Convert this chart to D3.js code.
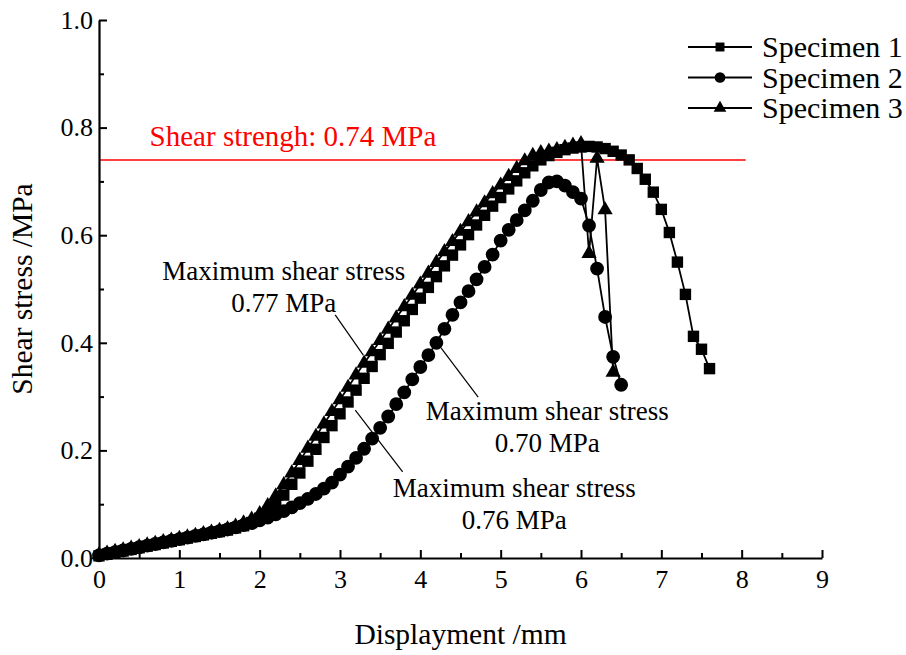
<!DOCTYPE html>
<html>
<head>
<meta charset="utf-8">
<title>Shear stress vs displacement</title>
<script src="https://d3js.org/d3.v7.min.js"></script>
<style>
    body { margin: 0; background: #fff; }
    text { font-family: "Liberation Serif", "Times New Roman", serif; fill: #000; }
</style>
</head>
<body>
<div id="chart"></div>
<script>
    // values: [displacement mm, shear stress MPa]
    const specimen1 = [
        [0.0,0.004],[0.1,0.007],[0.2,0.010],[0.3,0.013],[0.4,0.016],[0.5,0.019],[0.6,0.022],[0.7,0.025],
        [0.8,0.028],[0.9,0.031],[1.0,0.034],[1.1,0.037],[1.2,0.040],[1.3,0.043],[1.4,0.046],[1.5,0.049],
        [1.6,0.052],[1.7,0.056],[1.8,0.060],[1.9,0.066],[2.0,0.074],[2.1,0.085],[2.2,0.099],[2.3,0.117],
        [2.4,0.137],[2.5,0.158],[2.6,0.180],[2.7,0.202],[2.8,0.224],[2.9,0.246],[3.0,0.268],[3.1,0.290],
        [3.2,0.312],[3.3,0.334],[3.4,0.356],[3.5,0.378],[3.6,0.399],[3.7,0.420],[3.8,0.441],[3.9,0.462],
        [4.0,0.483],[4.1,0.503],[4.2,0.523],[4.3,0.543],[4.4,0.563],[4.5,0.582],[4.6,0.601],[4.7,0.619],
        [4.8,0.637],[4.9,0.654],[5.0,0.670],[5.1,0.686],[5.2,0.701],[5.3,0.716],[5.4,0.729],[5.5,0.740],
        [5.6,0.748],[5.7,0.754],[5.8,0.759],[5.9,0.762],[6.0,0.764],[6.1,0.765],[6.2,0.764],[6.3,0.761],
        [6.4,0.756],[6.5,0.749],[6.6,0.740],[6.7,0.724],[6.8,0.704],[6.9,0.680],[7.0,0.648],[7.1,0.605],
        [7.2,0.550],[7.3,0.490],[7.4,0.412],[7.5,0.388],[7.6,0.352]
    ];
    const specimen2 = [
        [0.0,0.005],[0.1,0.008],[0.2,0.011],[0.3,0.014],[0.4,0.017],[0.5,0.020],[0.6,0.023],[0.7,0.026],
        [0.8,0.029],[0.9,0.032],[1.0,0.035],[1.1,0.038],[1.2,0.041],[1.3,0.044],[1.4,0.047],[1.5,0.050],
        [1.6,0.053],[1.7,0.057],[1.8,0.061],[1.9,0.065],[2.0,0.070],[2.1,0.075],[2.2,0.081],[2.3,0.087],
        [2.4,0.094],[2.5,0.102],[2.6,0.110],[2.7,0.119],[2.8,0.129],[2.9,0.140],[3.0,0.155],[3.1,0.170],
        [3.2,0.186],[3.3,0.203],[3.4,0.222],[3.5,0.242],[3.6,0.263],[3.7,0.286],[3.8,0.308],[3.9,0.332],
        [4.0,0.355],[4.1,0.377],[4.2,0.400],[4.3,0.426],[4.4,0.452],[4.5,0.475],[4.6,0.496],[4.7,0.518],
        [4.8,0.541],[4.9,0.564],[5.0,0.590],[5.1,0.610],[5.2,0.628],[5.3,0.646],[5.4,0.664],[5.5,0.684],
        [5.6,0.698],[5.7,0.700],[5.8,0.692],[5.9,0.680],[6.0,0.668],[6.1,0.618],[6.2,0.538],[6.3,0.448],
        [6.4,0.374],[6.5,0.322]
    ];
    const specimen3 = [
        [0.0,0.006],[0.1,0.009],[0.2,0.012],[0.3,0.015],[0.4,0.018],[0.5,0.021],[0.6,0.024],[0.7,0.027],
        [0.8,0.030],[0.9,0.033],[1.0,0.036],[1.1,0.039],[1.2,0.042],[1.3,0.045],[1.4,0.048],[1.5,0.051],
        [1.6,0.054],[1.7,0.059],[1.8,0.065],[1.9,0.072],[2.0,0.082],[2.1,0.097],[2.2,0.115],[2.3,0.136],
        [2.4,0.158],[2.5,0.181],[2.6,0.204],[2.7,0.226],[2.8,0.249],[2.9,0.272],[3.0,0.294],[3.1,0.317],
        [3.2,0.340],[3.3,0.362],[3.4,0.383],[3.5,0.404],[3.6,0.425],[3.7,0.446],[3.8,0.467],[3.9,0.488],
        [4.0,0.509],[4.1,0.529],[4.2,0.549],[4.3,0.569],[4.4,0.588],[4.5,0.607],[4.6,0.625],[4.7,0.643],
        [4.8,0.660],[4.9,0.677],[5.0,0.693],[5.1,0.709],[5.2,0.724],[5.3,0.738],[5.4,0.748],[5.5,0.753],
        [5.6,0.756],[5.7,0.759],[5.8,0.763],[5.9,0.767],[6.0,0.770],[6.1,0.566],[6.2,0.743],[6.3,0.647],
        [6.4,0.345]
    ];
    const seriesNames = ["Specimen 1", "Specimen 2", "Specimen 3"];
    const xTicks = [0, 1, 2, 3, 4, 5, 6, 7, 8, 9];
    const xMinorTicks = [0.5, 1.5, 2.5, 3.5, 4.5, 5.5, 6.5, 7.5, 8.5];
    const yTicks = [0.0, 0.2, 0.4, 0.6, 0.8, 1.0];
    const yMinorTicks = [0.1, 0.3, 0.5, 0.7, 0.9];
    const shearStrength = 0.74;
    const strengthLineEnd = 8.05;
    // annotation labels: text anchor point and leader line, in data units
    const annotations = [
        { lines: ["Maximum shear stress", "0.77 MPa"], at: [2.30, 0.517], from: [2.94, 0.452], to: [3.29, 0.377] },
        { lines: ["Maximum shear stress", "0.70 MPa"], at: [5.58, 0.257], from: [4.72, 0.299], to: [4.26, 0.390] },
        { lines: ["Maximum shear stress", "0.76 MPa"], at: [5.17, 0.113], from: [3.78, 0.160], to: [3.19, 0.275] }
    ];

    const W = 906, H = 655;
    const svg = d3.select("#chart").append("svg")
        .attr("width", W).attr("height", H)
        .style("background", "#fff");

    const x = d3.scaleLinear().domain([0, 9]).range([99, 822]);
    const y = d3.scaleLinear().domain([0, 1]).range([558, 20]);

    // red shear strength line
    svg.append("line")
        .attr("x1", x(0)).attr("x2", x(strengthLineEnd))
        .attr("y1", y(shearStrength)).attr("y2", y(shearStrength))
        .attr("stroke", "#ff0000").attr("stroke-width", 1.5);
    svg.append("text")
        .attr("x", x(0.63)).attr("y", y(0.766))
        .attr("font-size", 29)
        .style("fill", "#ff0000")
        .text("Shear strengh: 0.74 MPa");

    // series
    const symbols = [d3.symbolSquare, d3.symbolCircle, d3.symbolTriangle];
    const symSizes = [130, 150, 100];
    const allSeries = [specimen1, specimen2, specimen3];
    const line = d3.line().x(d => x(d[0])).y(d => y(d[1]));

    allSeries.forEach((data, i) => {
        const g = svg.append("g");
        g.append("path")
            .datum(data)
            .attr("fill", "none")
            .attr("stroke", "#000")
            .attr("stroke-width", 1.8)
            .attr("d", line);
        g.selectAll("path.mk")
            .data(data)
            .join("path")
            .attr("class", "mk")
            .attr("transform", d => `translate(${x(d[0])},${y(d[1])})`)
            .attr("d", d3.symbol().type(symbols[i]).size(symSizes[i]))
            .attr("fill", "#000");
    });

    // axes
    svg.append("g")
        .attr("transform", `translate(0,${y(0)})`)
        .call(d3.axisBottom(x).tickValues(xTicks).tickSize(-8).tickSizeOuter(0).tickPadding(12).tickFormat(d3.format("d")));
    svg.append("g")
        .attr("transform", `translate(0,${y(0)})`)
        .call(d3.axisBottom(x).tickValues(xMinorTicks).tickSize(-5).tickSizeOuter(0).tickFormat(""))
        .select(".domain").remove();
    svg.append("g")
        .attr("transform", `translate(${x(0)},0)`)
        .call(d3.axisLeft(y).tickValues(yTicks).tickSize(-8).tickSizeOuter(0).tickPadding(6).tickFormat(d3.format(".1f")));
    svg.append("g")
        .attr("transform", `translate(${x(0)},0)`)
        .call(d3.axisLeft(y).tickValues(yMinorTicks).tickSize(-5).tickSizeOuter(0).tickFormat(""))
        .select(".domain").remove();

    svg.selectAll(".domain").attr("stroke-width", 2.2);
    svg.selectAll(".tick line").attr("stroke-width", 2);
    svg.selectAll(".tick text")
        .attr("font-family", "Liberation Serif, Times New Roman, serif")
        .attr("font-size", 26).attr("fill", "#000");

    // axis titles
    svg.append("text")
        .attr("x", (x(0) + x(9)) / 2).attr("y", 644)
        .attr("text-anchor", "middle")
        .attr("font-size", 29.5)
        .text("Displayment /mm");
    svg.append("text")
        .attr("transform", `translate(32,${(y(0) + y(1)) / 2}) rotate(-90)`)
        .attr("text-anchor", "middle")
        .attr("font-size", 29.5)
        .text("Shear stress /MPa");

    // annotations
    annotations.forEach(a => {
        svg.append("line")
            .attr("x1", x(a.from[0])).attr("y1", y(a.from[1]))
            .attr("x2", x(a.to[0])).attr("y2", y(a.to[1]))
            .attr("stroke", "#000").attr("stroke-width", 1.2);
        const t = svg.append("text")
            .attr("text-anchor", "middle")
            .attr("font-size", 27);
        a.lines.forEach((s, k) => {
            t.append("tspan")
                .attr("x", x(a.at[0]))
                .attr("y", y(a.at[1]) + k * 32)
                .text(s);
        });
    });

    // legend
    const legend = svg.append("g").attr("transform", "translate(688,47)");
    seriesNames.forEach((name, i) => {
        const row = legend.append("g").attr("transform", `translate(0,${i * 30.5})`);
        row.append("line")
            .attr("x1", 0).attr("x2", 64).attr("y1", 0).attr("y2", 0)
            .attr("stroke", "#000").attr("stroke-width", 1.8);
        row.append("path")
            .attr("transform", "translate(32,0)")
            .attr("d", d3.symbol().type(symbols[i]).size([80, 90, 70][i]))
            .attr("fill", "#000");
        row.append("text")
            .attr("x", 74).attr("y", 10)
            .attr("font-size", 30)
            .text(name);
    });
</script>
</body>
</html>
